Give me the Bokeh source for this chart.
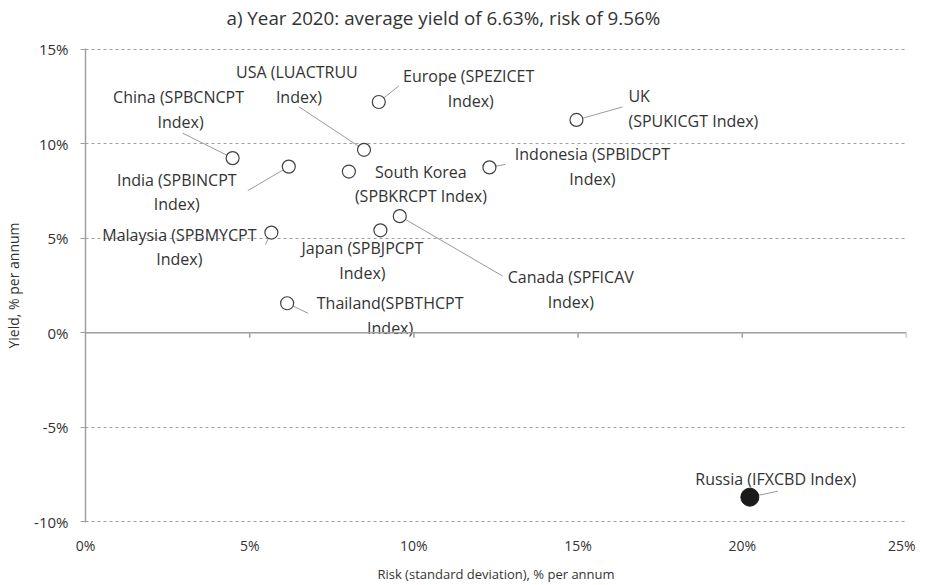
import numpy as np
from bokeh.plotting import figure
from bokeh.models import Range1d, FixedTicker, Span, ColumnDataSource, Title
from bokeh.embed import file_html
from bokeh.resources import INLINE
from bokeh.core.properties import value

# ---------------- data ----------------
title_text = "a) Year 2020: average yield of 6.63%, risk of 9.56%"
countries = ["China", "USA", "Europe", "UK", "India", "South Korea", "Indonesia",
             "Malaysia", "Japan", "Canada", "Thailand", "Russia"]
labels = ["China  (SPBCNCPT\nIndex)", "USA  (LUACTRUU\nIndex)", "Europe  (SPEZICET\nIndex)",
          "UK\n(SPUKICGT Index)", "India (SPBINCPT\nIndex)", "South Korea\n(SPBKRCPT Index)",
          "Indonesia (SPBIDCPT\nIndex)", "Malaysia (SPBMYCPT\nIndex)", "Japan (SPBJPCPT\nIndex)",
          "Canada (SPFICAV\nIndex)", "Thailand(SPBTHCPT\nIndex)", "Russia  (IFXCBD Index)"]
risk = [4.48, 8.48, 8.93, 14.95, 6.19, 8.02, 12.30, 5.66, 8.98, 9.57, 6.14, 20.23]
yld = [9.24, 9.68, 12.21, 11.26, 8.79, 8.53, 8.75, 5.30, 5.42, 6.17, 1.56, -8.70]
x_ticks = [0, 5, 10, 15, 20, 25]
y_ticks = [-10, -5, 0, 5, 10, 15]

# ---------------- layout (pixel offsets from each point) ----------------
lab_dx = [-52, -65, 92, 52, -112, 72, 103, -92, -18, 171, 103, 28]
lab_dy = [-61, -78, -26, -24, 13, 0, -13, 2, 18, 61, 0, -18]
lab_align = ["center", "center", "center", "left", "center", "center", "center",
             "center", "center", "center", "center", "center"]
lead_dx = [-50, -65, 20, 46, -41, None, 16, -6, None, 103, 21, 28]
lead_dy = [-25, -43, -16, -13, 24, None, -3, 12, None, 60, 10, -6]

W, H = 915, 585
ML, MR, MT, MB = 85, 9, 48, 63
FW, FH = W - ML - MR, H - MT - MB
XMIN, XMAX, YMIN, YMAX = 0, 25, -10, 15
PAD = 0.04  # keep edge gridlines inside the frame
px_x = FW / (XMAX - XMIN)
px_y = FH / (YMAX - YMIN + 2 * PAD)

FONT = "Open Sans"
TXT = "#333333"
GRID = "#a0a0a0"

p = figure(width=W, height=H, x_range=Range1d(XMIN, XMAX),
           y_range=Range1d(YMIN - PAD, YMAX + PAD),
           output_backend="svg", toolbar_location=None,
           min_border_left=ML, min_border_right=MR, min_border_top=MT, min_border_bottom=MB)
p.outline_line_color = None
p.background_fill_color = "white"

p.title.text = title_text
p.title.align = "left"
p.title.offset = 141
p.title.vertical_align = "top"
p.title.text_font = FONT
p.title.text_font_size = "18.8px"
p.title.text_font_style = "normal"
p.title.text_color = TXT
p.title.standoff = 6
# blank spacer between the title and the frame
p.add_layout(Title(text="\u00a0", text_font_size="1px", standoff=10), "above")

# axes
p.xaxis.ticker = FixedTicker(ticks=x_ticks)
p.xaxis.major_label_overrides = {t: f"{t}%" for t in x_ticks}
p.xaxis.axis_line_color = None
p.xaxis.major_tick_line_color = None
p.xaxis.minor_tick_line_color = None
p.xaxis.major_label_standoff = 7
p.xaxis.major_label_text_font = FONT
p.xaxis.major_label_text_font_size = "14px"
p.xaxis.major_label_text_color = TXT
p.xaxis.axis_label = "Risk (standard deviation), % per annum"
p.xaxis.axis_label_text_font = FONT
p.xaxis.axis_label_text_font_size = "13px"
p.xaxis.axis_label_text_font_style = "normal"
p.xaxis.axis_label_text_color = TXT
p.xaxis.axis_label_standoff = 7

p.yaxis.ticker = FixedTicker(ticks=y_ticks)
p.yaxis.major_label_overrides = {t: f"{t}%" for t in y_ticks}
p.yaxis.axis_line_color = GRID
p.yaxis.axis_line_width = 1.5
p.yaxis.major_tick_line_color = GRID
p.yaxis.major_tick_out = 5
p.yaxis.major_tick_in = 0
p.yaxis.minor_tick_line_color = None
p.yaxis.major_label_standoff = 12
p.yaxis.major_label_text_font = FONT
p.yaxis.major_label_text_font_size = "15px"
p.yaxis.major_label_text_color = TXT
p.yaxis.axis_label = "Yield, % per annum"
p.yaxis.axis_label_text_font = FONT
p.yaxis.axis_label_text_font_size = "14px"
p.yaxis.axis_label_text_font_style = "normal"
p.yaxis.axis_label_text_color = TXT
p.yaxis.axis_label_standoff = 8

p.xgrid.grid_line_color = None
p.ygrid.ticker = FixedTicker(ticks=y_ticks)
p.ygrid.grid_line_color = GRID
p.ygrid.grid_line_dash = "3 3"
p.ygrid.grid_line_width = 1

# zero line with ticks
p.add_layout(Span(location=0, dimension="width", line_color=GRID, line_width=1.5))
zt = [t for t in x_ticks if t > XMIN]
p.segment(x0=zt, y0=[0] * len(zt), x1=zt, y1=[-5 / px_y] * len(zt),
          line_color=GRID, line_width=1.5)

# leader lines
lx0, ly0, lx1, ly1 = [], [], [], []
for xr, yr, dx, dy in zip(risk, yld, lead_dx, lead_dy):
    if dx is None:
        continue
    lx0.append(xr); ly0.append(yr)
    lx1.append(xr + dx / px_x); ly1.append(yr - dy / px_y)
p.segment(x0=lx0, y0=ly0, x1=lx1, y1=ly1, line_color="#9a9a9a", line_width=1)

# points
is_ru = [c == "Russia" for c in countries]
src_open = ColumnDataSource(dict(x=[x for x, r in zip(risk, is_ru) if not r],
                                 y=[y for y, r in zip(yld, is_ru) if not r]))
src_fill = ColumnDataSource(dict(x=[x for x, r in zip(risk, is_ru) if r],
                                 y=[y for y, r in zip(yld, is_ru) if r]))
p.scatter("x", "y", source=src_open, size=13, fill_color="white",
          line_color="#404040", line_width=1.2)
p.scatter("x", "y", source=src_fill, size=18, fill_color="#1a1a1a",
          line_color="#1a1a1a", line_width=1)

# labels
LINE_PX = 24
FS = 16
lsrc = ColumnDataSource(dict(
    x=[xr + dx / px_x for xr, dx in zip(risk, lab_dx)],
    y=[yr - (dy - 11) / px_y for yr, dy in zip(yld, lab_dy)],
    text=labels, align=lab_align))
p.text("x", "y", text="text", source=lsrc, text_align="align", text_baseline="top",
       text_font=value(FONT), text_font_size=f"{FS}px", text_color=TXT,
       text_line_height=LINE_PX / (FS * 1.333))

open("out.html", "w").write(file_html(p, INLINE))
